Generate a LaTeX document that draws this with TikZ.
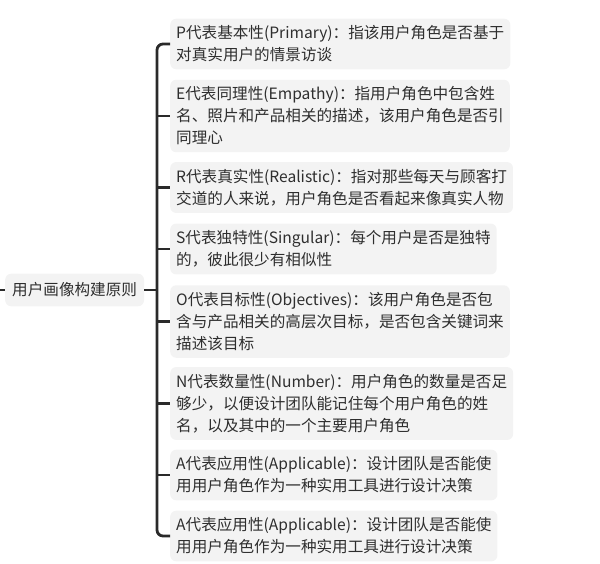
\documentclass[tikz,border=0pt]{standalone}
\usepackage{fontspec}
\setmainfont{Noto Sans CJK SC}
\definecolor{textgrau}{HTML}{2E2E2E}
\definecolor{boxgrau}{HTML}{F3F3F3}
\definecolor{liniengrau}{HTML}{2A2A2A}
\tikzset{
    punkt/.style={fill=boxgrau, rounded corners=6pt, anchor=west, align=left,
        inner xsep=6pt, inner ysep=7pt, text=textgrau,
        font=\fontsize{15.6}{22}\selectfont},
    wurzel/.style={punkt, inner xsep=7pt, inner ysep=9pt},
    ast/.style={draw=liniengrau, line width=2.8pt, rounded corners=6pt}
}
\begin{document}
\begin{tikzpicture}[x=1pt, y=-1pt]

    \useasboundingbox (0,0) rectangle (600,563);

    % Wurzel
    \node[wurzel] (wurzel) at (5,290) {用户画像构建原则};
    \coordinate (stumpf) at (0,290);
    \coordinate (stamm) at (157,290);

    % Unterpunkte
    \node[punkt] (primary) at (170,44) {P代表基本性(Primary)：指该用户角色是否基于\\对真实用户的情景访谈};
    \node[punkt] (empathy) at (170,116) {E代表同理性(Empathy)：指用户角色中包含姓\\名、照片和产品相关的描述，该用户角色是否引\\同理心};
    \node[punkt] (realistic) at (170,187.5) {R代表真实性(Realistic)：指对那些每天与顾客打\\交道的人来说，用户角色是否看起来像真实人物};
    \node[punkt] (singular) at (170,249) {S代表独特性(Singular)：每个用户是否是独特\\的，彼此很少有相似性};
    \node[punkt] (objectives) at (170,321.5) {O代表目标性(Objectives)：该用户角色是否包\\含与产品相关的高层次目标，是否包含关键词来\\描述该目标};
    \node[punkt] (number) at (170,403.5) {N代表数量性(Number)：用户角色的数量是否足\\够少，以便设计团队能记住每个用户角色的姓\\名，以及其中的一个主要用户角色};
    \node[punkt] (applicableA) at (170,475) {A代表应用性(Applicable)：设计团队是否能使\\用用户角色作为一种实用工具进行设计决策};
    \node[punkt] (applicableB) at (170,536) {A代表应用性(Applicable)：设计团队是否能使\\用用户角色作为一种实用工具进行设计决策};

    % Verbindungen
    \draw[ast] (stumpf) -- (wurzel.west);
    \draw[ast] (wurzel.east) -- (stamm);
    \draw[ast] (primary.west) -| (stamm) |- (applicableB.west);
    \draw[ast] (stamm |- empathy.west) -- (empathy.west);
    \draw[ast] (stamm |- realistic.west) -- (realistic.west);
    \draw[ast] (stamm |- singular.west) -- (singular.west);
    \draw[ast] (stamm |- objectives.west) -- (objectives.west);
    \draw[ast] (stamm |- number.west) -- (number.west);
    \draw[ast] (stamm |- applicableA.west) -- (applicableA.west);

\end{tikzpicture}
\end{document}
